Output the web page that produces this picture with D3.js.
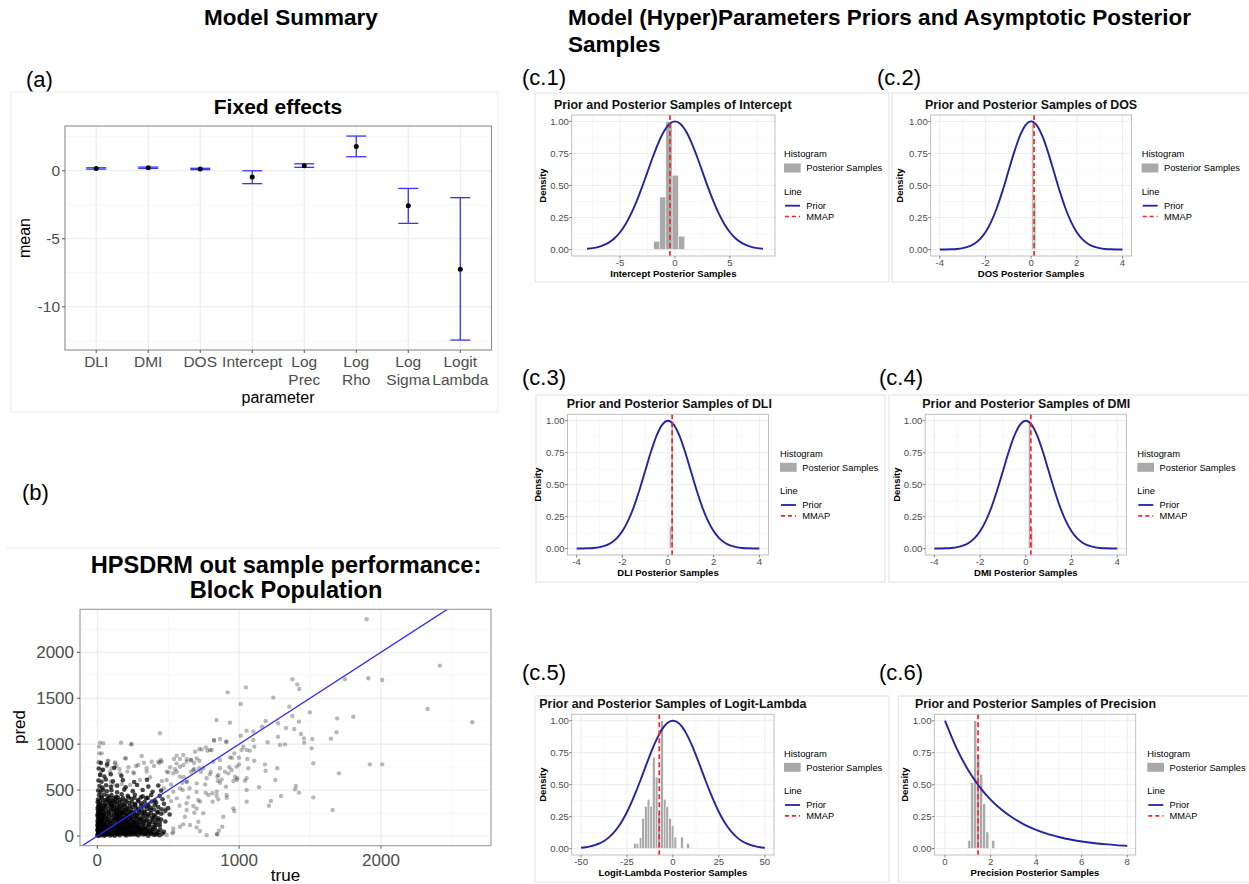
<!DOCTYPE html>
<html><head><meta charset="utf-8">
<script src="https://cdn.jsdelivr.net/npm/d3@7"></script>
<style>body{margin:0;background:#fff}svg{display:block}text{font-family:"Liberation Sans",Arial,sans-serif}</style>
</head><body><svg id="c" width="1249" height="884"></svg>
<script>
// ---------------- DATA ----------------
const feParams = ["DLI","DMI","DOS","Intercept","Log Prec","Log Rho","Log Sigma","Logit Lambda"];
const feTickLines = [["DLI"],["DMI"],["DOS"],["Intercept"],["Log","Prec"],["Log","Rho"],["Log","Sigma"],["Logit","Lambda"]];
const feMean  = [0.17, 0.22, 0.13, -0.46, 0.37, 1.79, -2.57, -7.25];
const feLower = [0.12, 0.17, 0.08, -0.95, 0.25, 1.03, -3.87, -12.45];
const feUpper = [0.22, 0.27, 0.18, 0.00, 0.51, 2.55, -1.30, -1.98];
const feYTicks = [0, -5, -10];
const feYMinor = [2.5, -2.5, -7.5, -12.5];

const bXTicks = [0, 1000, 2000];
const bXMinor = [500, 1500, 2500];
const bYTicks = [0, 500, 1000, 1500, 2000];
const bYMinor = [250, 750, 1250, 1750, 2250];
const sparsePts = [[1899,2359],[2416,1855],[1911,1717],[2009,1698],[1746,1706],[2329,1383],[2644,1238],[1805,1299],[1692,1281],[1647,1060],[1687,1129],[1922,780],[2009,780],[1704,682],[1659,283],[1375,1706],[1410,1651],[1424,1601],[1241,1506],[1048,1618],[919,1564],[1011,1437],[1354,1408],[1375,1306],[1499,1346],[1422,1245],[1389,1165],[1330,1176],[1274,1227],[1187,1252],[1161,1190],[841,1263],[935,1234],[1053,1147],[1100,1136],[1011,1092],[1100,1045],[1201,1020],[1274,1081],[1288,991],[1323,998],[1436,1111],[1457,1063],[1516,1056],[1459,1016],[1511,954],[1523,791],[1401,544],[1394,508],[1422,472],[1523,421],[1295,435],[1224,381],[1210,330],[1255,610],[1269,737],[1187,711],[1182,780],[1140,530],[1053,374],[1041,602],[987,628],[1058,838],[1107,820],[1076,929],[1107,973],[1053,936],[1018,936],[999,853],[966,900],[935,856],[912,1027],[865,1056],[823,1038],[766,965],[794,936],[719,944],[660,827],[630,838],[583,838],[682,798],[719,737],[684,726],[731,700],[794,671],[853,664],[877,617],[907,537],[912,417],[966,272],[888,210],[881,102],[858,58],[846,18],[771,11],[724,54],[700,94],[684,254],[724,374],[764,472],[811,465],[841,439],[813,374],[853,399],[865,581],[959,599],[971,646],[931,748],[442,1118],[606,882],[559,875],[541,838],[559,791],[536,682],[583,646],[501,693],[489,610],[630,592],[602,501],[642,421],[677,327],[630,283],[618,210],[606,127],[536,83],[489,11],[529,29],[454,809],[437,798],[383,809],[329,798],[273,762],[219,748],[242,1002],[167,1016],[136,762],[125,802],[202,846],[78,820],[66,762],[31,719],[19,1016],[42,1009],[12,973],[31,900],[7,802],[26,693],[313,871],[348,737],[259,682],[160,682],[89,700],
[238,998],[14,900],[14,809],[73,816],[125,791],[195,845],[101,737],[157,726],[212,701],[254,693],[289,773],[400,762],[430,809],[448,827],[19,664],[94,591],[26,501],[110,556],[172,566],[231,556],[301,610],[372,639],[348,701],[489,701],[513,748],[548,726],[583,755],[630,809],[689,918],[736,943],[776,929],[807,936],[823,1045],[907,1027],[865,827],[818,809],[701,845],[661,827],[607,773],[677,718],[747,737],[865,737],[947,718],[983,755],[924,682],[846,646],[771,628],[701,573],[630,591],[583,519],[536,483],[501,428],[560,410],[630,356],[712,392],[783,446],[842,483],[912,446],[959,301],[983,610],[1053,628],[1065,737],[1030,972],[1053,501],[747,247],[712,155],[654,119],[536,47],[583,101],[842,22],[465,247],[430,174],[442,101],[383,65],
[520,560],[470,520],[455,600],[610,640],[660,700],[720,820],[560,700],[600,580],[650,520],[700,480],[520,380],[580,330],[480,300],[700,300],[760,560],[800,700],[850,600],[900,700],[950,850],[1000,780]];
const corePts = [[3,12],[10,4],[18,15],[27,8],[36,18],[48,3],[60,11],[75,20],[90,6],[105,14],[122,2],[140,17],[160,9],[182,21],[205,5],[230,13],[258,19],[290,7],[325,16],[360,4],[400,12],[440,8],
[6,33],[14,27],[22,38],[33,25],[44,35],[56,29],[70,40],[85,24],[100,36],[118,31],[136,26],[155,39],[176,30],[198,23],[222,37],[248,28],[275,34],[305,41],[338,27],[372,32],[410,24],
[2,58],[9,50],[17,62],[26,47],[38,56],[50,65],[63,49],[78,60],[94,53],[110,66],[128,46],[147,57],[168,63],[190,51],[214,59],[240,48],[268,61],[298,54],[330,67],[365,50],[420,58],[470,45],
[5,83],[12,76],[20,90],[30,72],[42,85],[55,78],[68,92],[84,74],[100,88],[117,80],[135,71],[154,86],[175,79],[197,93],[220,75],[245,84],[272,89],[300,77],[335,82],[380,70],
[3,108],[10,99],[19,115],[28,102],[40,96],[52,111],[66,104],[81,118],[97,100],[114,109],[132,95],[151,113],[172,106],[194,98],[218,117],[243,103],[270,112],[302,97],[340,107],[390,101],[440,114],
[7,138],[15,128],[24,145],[35,131],[47,140],[60,126],[75,148],[90,133],[107,142],[125,129],[144,137],[165,150],[187,132],[210,141],[235,127],[262,146],[292,135],[325,143],[365,130],[410,139],
[2,168],[11,158],[20,175],[31,162],[43,171],[57,155],[72,178],[88,164],[105,159],[123,172],[143,166],[164,157],[186,176],[210,163],[236,170],[265,156],[296,174],[330,167],[370,160],[420,173],[480,158],
[6,203],[15,192],[26,210],[38,197],[52,206],[67,188],[83,213],[100,199],[120,191],[141,208],[163,202],[187,194],[212,211],[240,196],[270,205],[303,190],[340,214],[385,200],[430,193],
[3,238],[12,228],[23,245],[35,232],[49,241],[64,226],[81,248],[99,236],[119,229],[140,243],[163,233],[188,247],[215,225],[245,240],[278,231],[315,246],[355,237],[400,227],[450,242],[510,234],
[8,274],[18,262],[30,281],[44,268],[60,277],[78,259],[97,283],[118,266],[141,275],[166,263],[193,280],[222,270],[255,261],[290,278],[330,267],[375,284],[425,264],[480,276],
[4,314],[15,300],[28,321],[43,306],[60,318],[80,297],[102,325],[126,309],[152,302],[180,319],[212,305],[248,316],[288,299],[330,322],[378,308],[430,315],[500,303],
[10,354],[22,340],[38,362],[56,345],[77,357],[100,338],[126,365],[155,349],[188,342],[225,360],[265,347],[310,356],[360,339],[415,363],[470,351],
[5,398],[18,385],[33,410],[52,390],[74,403],[99,382],[128,407],[160,393],[197,388],[240,405],[290,391],[345,412],[405,386],[460,400],
[12,445],[28,430],[48,452],[72,436],[100,447],[133,428],[172,455],[215,438],[265,449],[320,433],[380,446],[440,437],
[6,495],[22,480],[42,503],[68,486],[100,498],[140,477],[190,505],[250,488],[320,500],[390,482],[450,494],
[15,545],[35,528],[62,552],[95,535],[140,548],[200,530],[280,555],[360,538],[430,550],
[8,605],[30,590],[60,615],[110,595],[180,608],[260,588],[350,612],
[20,665],[50,648],[95,672],[170,655],[10,735],[40,720],[120,742],[25,795],[70,780]];
const corePts2 = [[150,22],[193,18],[218,25],[244,20],[274,16],[307,24],[342,19],[380,23],[420,17],[460,26],
[145,44],[187,48],[210,42],[235,46],[262,43],[290,49],[320,41],[355,47],[390,44],[430,40],
[158,70],[180,66],[202,72],[228,68],[255,65],[283,71],[315,69],[348,64],[395,70],[445,67],
[145,95],[165,91],[187,97],[208,90],[233,94],[258,99],[287,92],[318,96],[358,90],[405,94],
[140,122],[162,118],[183,124],[206,121],[230,116],[256,123],[286,119],[320,125],[365,118],[415,121],
[155,152],[176,148],[198,155],[222,150],[249,147],[277,153],[308,149],[345,156],[390,151],[440,147],
[132,185],[153,180],[175,188],[198,182],[223,186],[250,179],[280,187],[313,183],[350,181],[395,186],[450,180],
[130,220],[152,215],[175,222],[200,217],[226,221],[255,214],[286,223],[320,216],[362,220],[408,215],
[130,255],[152,250],[176,258],[202,252],[230,256],[262,249],[296,257],[335,253],[378,250],[425,255],
[108,292],[130,288],[154,295],[180,289],[207,293],[238,287],[272,296],[310,290],[352,294],[400,288],[452,292],
[90,332],[114,328],[140,335],[166,329],[196,334],[230,327],[268,336],[308,331],[354,328],[405,334],
[88,374],[113,370],[140,377],[172,372],[207,375],[245,369],[287,378],[334,371],[385,376],
[86,418],[114,412],[145,420],[180,414],[220,419],[262,413],[308,421],[356,415],
[1,5],[4,22],[8,45],[2,70],[7,92],[1,120],[4,150],[8,185],[1,220],[6,255],[3,290],[9,330],[2,370],[14,20],[21,50],[15,110],[25,160],[33,190],[45,225],[36,295],[50,330],[65,390]];

// prior curves (scaled to max 1)
const priorNormX = [-4,-3.75,-3.5,-3.25,-3,-2.75,-2.5,-2.25,-2,-1.75,-1.5,-1.25,-1,-0.75,-0.5,-0.25,0,0.25,0.5,0.75,1,1.25,1.5,1.75,2,2.25,2.5,2.75,3,3.25,3.5,3.75,4];
const priorNormY = [0.0003,0.0009,0.0022,0.0051,0.0111,0.0228,0.0439,0.0796,0.1353,0.2163,0.3247,0.4578,0.6065,0.7548,0.8825,0.9692,1,0.9692,0.8825,0.7548,0.6065,0.4578,0.3247,0.2163,0.1353,0.0796,0.0439,0.0228,0.0111,0.0051,0.0022,0.0009,0.0003];
const priorIntX = [-8,-7.5,-7,-6.5,-6,-5.5,-5,-4.5,-4,-3.5,-3,-2.5,-2,-1.5,-1,-0.5,0,0.5,1,1.5,2,2.5,3,3.5,4,4.5,5,5.5,6,6.5,7,7.5,8];
const priorIntY = [0.006,0.0111,0.0198,0.034,0.0561,0.0889,0.1353,0.1979,0.278,0.3753,0.4868,0.6065,0.7261,0.8353,0.9231,0.9802,1,0.9802,0.9231,0.8353,0.7261,0.6065,0.4868,0.3753,0.278,0.1979,0.1353,0.0889,0.0561,0.034,0.0198,0.0111,0.006];
const priorLLX = [-50,-47.5,-45,-42.5,-40,-37.5,-35,-32.5,-30,-27.5,-25,-22.5,-20,-17.5,-15,-12.5,-10,-7.5,-5,-2.5,0,2.5,5,7.5,10,12.5,15,17.5,20,22.5,25,27.5,30,32.5,35,37.5,40,42.5,45,47.5,50];
const priorLLY = [0.0067,0.0109,0.0173,0.0269,0.0406,0.0598,0.086,0.1206,0.1649,0.2199,0.286,0.3628,0.4489,0.5415,0.6372,0.7312,0.8185,0.8934,0.9512,0.9876,1,0.9876,0.9512,0.8934,0.8185,0.7312,0.6372,0.5415,0.4489,0.3628,0.286,0.2199,0.1649,0.1206,0.086,0.0598,0.0406,0.0269,0.0173,0.0109,0.0067];
const priorPrecX = [0,0.5,1,1.5,2,2.5,3,3.5,4,4.5,5,5.5,6,6.5,7,7.5,8];
const priorPrecY = [1,0.787,0.619,0.487,0.383,0.301,0.237,0.186,0.147,0.115,0.091,0.071,0.056,0.044,0.035,0.027,0.021];

// posterior sample histograms (bin centres, scaled heights)
const histIntX = [-1.65,-1.1,-0.55,0.02,0.6];
const histIntY = [0.065,0.41,1.0,0.58,0.105];
const histDosX = [0.08,0.16];
const histDosY = [1.0,0.39];
const histDliX = [0.10,0.18];
const histDliY = [0.17,1.0];
const histDmiX = [0.16,0.26];
const histDmiY = [1.0,0.16];
const histLLX = [-20.7,-19.3,-17.6,-16.2,-14.7,-13.3,-11.8,-10.4,-8.9,-7.5,-6.0,-4.5,-3.1,-1.6,-0.2,1.3,4.9,8.2];
const histLLY = [0.04,0.04,0.086,0.236,0.33,0.385,0.33,0.715,0.56,0.28,1.0,0.385,0.33,0.236,0.18,0.09,0.09,0.04];
const histPrecX = [1.07,1.20,1.33,1.46,1.59,1.72,1.86,2.12];
const histPrecY = [0.065,0.515,1.0,0.73,0.58,0.35,0.13,0.065];
const mmapVals = {Intercept:-0.46, DOS:0.13, DLI:0.18, DMI:0.22, LL:-7.45, Prec:1.45};
const densTicks = [0,0.25,0.5,0.75,1];
const densMinor = [0.125,0.375,0.625,0.875];

// ---------------- DRAW ----------------
const svg = d3.select("#c");
function txt(g,x,y,s,o={}){
  const t=g.append("text").attr("x",x).attr("y",y).text(s)
    .attr("font-size",o.size||12).attr("fill",o.fill||"#000").attr("text-anchor",o.anchor||"start");
  if(o.bold) t.attr("font-weight","bold");
  if(o.family) t.attr("font-family",o.family);
  if(o.rotate) t.attr("transform",`rotate(-90,${x},${y})`);
  return t;
}
const SERIF='"Liberation Serif","Times New Roman",serif';
function hline(g,x1,x2,y,c,w){g.append("line").attr("x1",x1).attr("x2",x2).attr("y1",y).attr("y2",y).attr("stroke",c).attr("stroke-width",w);}
function vline(g,x,y1,y2,c,w){g.append("line").attr("x1",x).attr("x2",x).attr("y1",y1).attr("y2",y2).attr("stroke",c).attr("stroke-width",w);}

// headers
txt(svg,291,25,"Model Summary",{size:22.5,bold:true,anchor:"middle"});
txt(svg,568,25,"Model (Hyper)Parameters Priors and Asymptotic Posterior",{size:22.5,bold:true});
txt(svg,568,52,"Samples",{size:22.5,bold:true});

// ---- panel (a) ----
(function(){
  const g=svg.append("g");
  txt(g,26,87,"(a)",{size:22,family:SERIF});
  g.append("rect").attr("x",11).attr("y",92).attr("width",487).attr("height",320).attr("fill","none").attr("stroke","#ececec");
  const P={l:65,t:126,r:491.5,b:350};
  const x=d3.scalePoint().domain(feParams).range([P.l,P.r]).padding(0.6);
  const y=d3.scaleLinear().domain([-13.18,3.29]).range([P.b,P.t]);
  feYMinor.forEach(v=>hline(g,P.l,P.r,y(v),"#f3f3f3",0.7));
  feYTicks.forEach(v=>hline(g,P.l,P.r,y(v),"#ebebeb",1.1));
  feParams.forEach(p=>vline(g,x(p),P.t,P.b,"#ebebeb",1.1));
  g.append("rect").attr("x",P.l).attr("y",P.t).attr("width",P.r-P.l).attr("height",P.b-P.t).attr("fill","none").attr("stroke","#8c8c8c").attr("stroke-width",1.1);
  feYTicks.forEach(v=>{hline(g,P.l-3,P.l,y(v),"#555",1);txt(g,P.l-5,y(v)+5.5,String(v),{size:15.5,fill:"#4d4d4d",anchor:"end"});});
  feParams.forEach((p,i)=>{
    vline(g,x(p),P.b,P.b+3,"#555",1);
    feTickLines[i].forEach((s,j)=>txt(g,x(p),367.3+j*17.7,s,{size:15.5,fill:"#4d4d4d",anchor:"middle"}));
    const c="#3535ff";
    vline(g,x(p),y(feUpper[i]),y(feLower[i]),c,1.3);
    hline(g,x(p)-10,x(p)+10,y(feUpper[i]),c,1.3);
    hline(g,x(p)-10,x(p)+10,y(feLower[i]),c,1.3);
    g.append("circle").attr("cx",x(p)).attr("cy",y(feMean[i])).attr("r",2.5).attr("fill","#000");
  });
  txt(g,278,114,"Fixed effects",{size:21,bold:true,anchor:"middle"});
  txt(g,278,403,"parameter",{size:16,anchor:"middle"});
  txt(g,29.5,238,"mean",{size:16,anchor:"middle",rotate:true});
})();

// ---- panel (b) ----
(function(){
  const g=svg.append("g");
  txt(g,22,500,"(b)",{size:22,family:SERIF});
  hline(g,6,500,548,"#ececec",1);
  const P={l:80,t:609.3,r:491,b:845.7};
  const x=d3.scaleLinear().domain([-122,2776]).range([P.l,P.r]);
  const y=d3.scaleLinear().domain([-105.6,2468]).range([P.b,P.t]);
  bXMinor.forEach(v=>vline(g,x(v),P.t,P.b,"#f3f3f3",0.7));
  bYMinor.forEach(v=>hline(g,P.l,P.r,y(v),"#f3f3f3",0.7));
  bXTicks.forEach(v=>vline(g,x(v),P.t,P.b,"#ebebeb",1.1));
  bYTicks.forEach(v=>hline(g,P.l,P.r,y(v),"#ebebeb",1.1));
  g.append("clipPath").attr("id","clipb").append("rect").attr("x",P.l).attr("y",P.t).attr("width",P.r-P.l).attr("height",P.b-P.t);
  const pg=g.append("g").attr("clip-path","url(#clipb)");
  pg.selectAll("circle.s").data(sparsePts).join("circle").attr("class","s")
    .attr("cx",d=>x(d[0])).attr("cy",d=>y(d[1])).attr("r",2.2).attr("fill","#000").attr("fill-opacity",0.28);
  pg.selectAll("circle.k").data(corePts.concat(corePts2)).join("circle").attr("class","k")
    .attr("cx",d=>x(d[0])).attr("cy",d=>y(d[1])).attr("r",2.3).attr("fill","#000").attr("fill-opacity",0.72);
  pg.append("line").attr("x1",x(-200)).attr("y1",y(-200)).attr("x2",x(2800)).attr("y2",y(2800)).attr("stroke","#2a2aff").attr("stroke-width",1.3);
  g.append("rect").attr("x",P.l).attr("y",P.t).attr("width",P.r-P.l).attr("height",P.b-P.t).attr("fill","none").attr("stroke","#999").attr("stroke-width",1.1);
  bYTicks.forEach(v=>{hline(g,P.l-3,P.l,y(v),"#555",1);txt(g,P.l-6,y(v)+6,String(v),{size:17,fill:"#4d4d4d",anchor:"end"});});
  bXTicks.forEach(v=>{vline(g,x(v),P.b,P.b+3,"#555",1);txt(g,x(v),865.7,String(v),{size:17,fill:"#4d4d4d",anchor:"middle"});});
  txt(g,286,573.3,"HPSDRM out sample performance:",{size:23.6,bold:true,anchor:"middle"});
  txt(g,286,597.7,"Block Population",{size:23.6,bold:true,anchor:"middle"});
  txt(g,285.5,881,"true",{size:17,anchor:"middle"});
  txt(g,25,727,"pred",{size:17,anchor:"middle",rotate:true});
})();

// ---- panels (c) ----
const cPanels=[
 {lab:"(c.1)",lx:522,ly:85,box:[535,93,889,282],plot:[571.7,115,775,256],xdom:[-9.4,9.1],xt:[-5,0,5],xm:[-7.5,-2.5,2.5,7.5],
  title:"Prior and Posterior Samples of Intercept",tx:554,xtitle:"Intercept Posterior Samples",legX:784,densX:545.5,
  px:priorIntX,py:priorIntY,hx:histIntX,hy:histIntY,bw:0.57,mmap:mmapVals.Intercept},
 {lab:"(c.2)",lx:877,ly:85,box:[892,93,1262,282],plot:[930.6,115,1131.6,256],xdom:[-4.4,4.4],xt:[-4,-2,0,2,4],xm:[-3,-1,1,3],
  title:"Prior and Posterior Samples of DOS",tx:925,xtitle:"DOS Posterior Samples",legX:1141.7,densX:903,
  px:priorNormX,py:priorNormY,hx:histDosX,hy:histDosY,bw:0.08,mmap:mmapVals.DOS},
 {lab:"(c.3)",lx:522,ly:385,box:[536,395,885,582],plot:[567.5,414.3,768.5,555],xdom:[-4.4,4.4],xt:[-4,-2,0,2,4],xm:[-3,-1,1,3],
  title:"Prior and Posterior Samples of DLI",tx:566.7,xtitle:"DLI Posterior Samples",legX:780,densX:541.3,
  px:priorNormX,py:priorNormY,hx:histDliX,hy:histDliY,bw:0.08,mmap:mmapVals.DLI},
 {lab:"(c.4)",lx:879,ly:385,box:[889,395,1262,582],plot:[925.2,414.3,1126.4,555],xdom:[-4.4,4.4],xt:[-4,-2,0,2,4],xm:[-3,-1,1,3],
  title:"Prior and Posterior Samples of DMI",tx:922.3,xtitle:"DMI Posterior Samples",legX:1137.3,densX:899.7,
  px:priorNormX,py:priorNormY,hx:histDmiX,hy:histDmiY,bw:0.09,mmap:mmapVals.DMI},
 {lab:"(c.5)",lx:522,ly:680,box:[535,696,889,882],plot:[571.7,714.3,774,855],xdom:[-55.1,55],xt:[-50,-25,0,25,50],xm:[-37.5,-12.5,12.5,37.5],
  title:"Prior and Posterior Samples of Logit-Lambda",tx:539.3,xtitle:"Logit-Lambda Posterior Samples",legX:784,densX:545.7,
  px:priorLLX,py:priorLLY,hx:histLLX,hy:histLLY,bw:1.45,mmap:mmapVals.LL},
 {lab:"(c.6)",lx:879,ly:680,box:[898.3,696,1262,882],plot:[934.3,714.3,1135.7,855],xdom:[-0.47,8.37],xt:[0,2,4,6,8],xm:[1,3,5,7],
  title:"Prior and Posterior Samples of Precision",tx:915,xtitle:"Precision Posterior Samples",legX:1147.3,densX:908,
  px:priorPrecX,py:priorPrecY,hx:histPrecX,hy:histPrecY,bw:0.13,mmap:mmapVals.Prec}
];
cPanels.forEach((c,ci)=>{
  const g=svg.append("g");
  txt(g,c.lx,c.ly,c.lab,{size:22,family:SERIF});
  const [bx0,by0,bx1,by1]=c.box;
  g.append("rect").attr("x",bx0).attr("y",by0).attr("width",bx1-bx0).attr("height",by1-by0).attr("fill","#fff").attr("stroke","#e2e2e2");
  const [L,T,R,B]=c.plot;
  const x=d3.scaleLinear().domain(c.xdom).range([L,R]);
  const y=d3.scaleLinear().domain([-0.05,1.05]).range([B,T]);
  c.xm.forEach(v=>vline(g,x(v),T,B,"#f4f4f4",0.6));
  densMinor.forEach(v=>hline(g,L,R,y(v),"#f4f4f4",0.6));
  c.xt.forEach(v=>vline(g,x(v),T,B,"#ebebeb",0.9));
  densTicks.forEach(v=>hline(g,L,R,y(v),"#ebebeb",0.9));
  g.selectAll("rect.bar").data(c.hx.map((v,i)=>[v,c.hy[i]])).join("rect").attr("class","bar")
    .attr("x",d=>x(d[0]-c.bw/2)).attr("width",d=>Math.max(1.2,x(d[0]+c.bw/2)-x(d[0]-c.bw/2)))
    .attr("y",d=>y(d[1])).attr("height",d=>y(0)-y(d[1]))
    .attr("fill","#a9a9a9").attr("stroke","#fff").attr("stroke-width",0.5);
  const line=d3.line().x(d=>x(d[0])).y(d=>y(d[1])).curve(d3.curveMonotoneX);
  g.append("path").attr("d",line(c.px.map((v,i)=>[v,c.py[i]]))).attr("fill","none").attr("stroke","#2323a3").attr("stroke-width",1.9);
  g.append("line").attr("x1",x(c.mmap)).attr("x2",x(c.mmap)).attr("y1",T).attr("y2",B)
    .attr("stroke","#ff2222").attr("stroke-width",1.7).attr("stroke-dasharray","5,3");
  g.append("rect").attr("x",L).attr("y",T).attr("width",R-L).attr("height",B-T).attr("fill","none").attr("stroke","#b8b8b8").attr("stroke-width",0.9);
  densTicks.forEach(v=>{hline(g,L-2.5,L,y(v),"#666",0.8);txt(g,L-2.8,y(v)+3.4,d3.format(".2f")(v),{size:9.6,fill:"#4d4d4d",anchor:"end"});});
  c.xt.forEach(v=>{vline(g,x(v),B,B+2.5,"#666",0.8);txt(g,x(v),B+10,String(v),{size:9.6,fill:"#4d4d4d",anchor:"middle"});});
  txt(g,c.tx,T-6,c.title,{size:12.4,bold:true,fill:"#111"});
  txt(g,(L+R)/2,B+21,c.xtitle,{size:9.5,bold:true,anchor:"middle"});
  txt(g,c.densX,(T+B)/2,"Density",{size:9.5,bold:true,anchor:"middle",rotate:true});
  const lx=c.legX;
  txt(g,lx,T+42.3,"Histogram",{size:9.4});
  g.append("rect").attr("x",lx).attr("y",T+48.5).attr("width",16.7).attr("height",9).attr("fill","#a9a9a9");
  txt(g,lx+22.3,T+56.3,"Posterior Samples",{size:9.3});
  txt(g,lx,T+80,"Line",{size:9.4});
  hline(g,lx+1,lx+16,T+90.7,"#2323a3",1.8);
  txt(g,lx+22.3,T+94,"Prior",{size:9.3});
  g.append("line").attr("x1",lx+1).attr("x2",lx+16).attr("y1",T+101.5).attr("y2",T+101.5).attr("stroke","#ff2222").attr("stroke-width",1.7).attr("stroke-dasharray","4,3");
  txt(g,lx+22.3,T+104.8,"MMAP",{size:9.3});
});
</script></body></html>
